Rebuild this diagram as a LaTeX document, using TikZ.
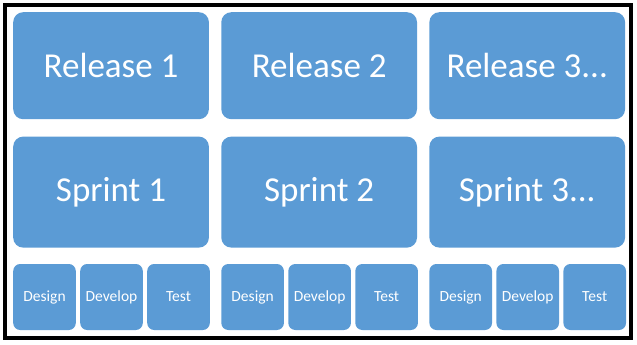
\documentclass[tikz,border=0pt]{standalone}
\usepackage{fontspec}
\setmainfont{Carlito}
\usepackage{tikz}
\usetikzlibrary{positioning}
\definecolor{tileblue}{RGB}{91,155,213}

\begin{document}
\begin{tikzpicture}[x=1pt,y=-1pt,node distance=12pt]
\tikzstyle{bigbox}=[fill=tileblue,rounded corners=10pt,text=white,minimum width=195.7pt,inner sep=0pt,font=\fontsize{35}{40}\selectfont]
\tikzstyle{taskbox}=[fill=tileblue,rounded corners=7pt,text=white,minimum width=62.6pt,minimum height=66pt,inner sep=0pt,font=\fontsize{15.5}{18}\selectfont]
\useasboundingbox (0,0) rectangle (637,345);
\draw[line width=4pt] (5,5) rectangle (631,338);
% releases
\node[bigbox,minimum height=107pt,anchor=north west] (rel1) at (13,12) {Release 1};
\node[bigbox,minimum height=107pt,right=of rel1] (rel2) {Release 2};
\node[bigbox,minimum height=107pt,right=of rel2] (rel3) {Release 3...};
% sprints
\node[bigbox,minimum height=111pt,below=17pt of rel1] (spr1) {Sprint 1};
\node[bigbox,minimum height=111pt,below=17pt of rel2] (spr2) {Sprint 2};
\node[bigbox,minimum height=111pt,below=17pt of rel3] (spr3) {Sprint 3...};
% tasks
\node[taskbox,below=16pt of spr1.south west,anchor=north west] (des1) {Design};
\node[taskbox,right=4pt of des1] (dev1) {Develop};
\node[taskbox,right=4pt of dev1] (tst1) {Test};
\node[taskbox,below=16pt of spr2.south west,anchor=north west] (des2) {Design};
\node[taskbox,right=4pt of des2] (dev2) {Develop};
\node[taskbox,right=4pt of dev2] (tst2) {Test};
\node[taskbox,below=16pt of spr3.south west,anchor=north west] (des3) {Design};
\node[taskbox,right=4pt of des3] (dev3) {Develop};
\node[taskbox,right=4pt of dev3] (tst3) {Test};
\end{tikzpicture}
\end{document}
